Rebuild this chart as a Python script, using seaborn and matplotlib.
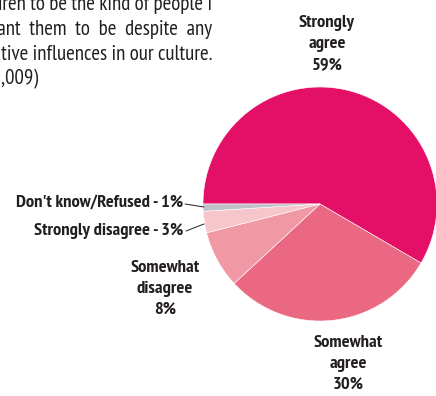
import matplotlib.pyplot as plt
import seaborn as sns

# data
categories = ['Strongly agree', 'Somewhat agree', 'Somewhat disagree',
              'Strongly disagree', "Don't know/Refused"]
shares = [59, 30, 8, 3, 1]
colors = ['#E41068', '#EB6882', '#F098A4', '#F7C6CD', '#BEC1C8']

title_lines = ['children to be the kind of people I',
               'want  them  to  be  despite  any',
               'negative influences in our culture.']
note = '(N=1,009)'

sns.set_theme(style='white')
plt.rcParams['font.family'] = ['PT Sans Narrow', 'Roboto Condensed', 'DejaVu Sans']
ink = '#231F20'

W, H = 436, 396
fig = plt.figure(figsize=(W / 100, H / 100), dpi=100)
ax = fig.add_axes([0, 0, 1, 1])
ax.axis('off')

ax.pie(shares, colors=colors, startangle=180, counterclock=False,
       center=(320, H - 204), radius=117,
       wedgeprops=dict(edgecolor='white', linewidth=0.4))
ax.set_xlim(0, W)
ax.set_ylim(0, H)
ax.set_aspect('equal')

# question text (cut off by the figure edge, as in the source)
for i, line in enumerate(title_lines):
    ax.text(212, H - 10 - 25 * i, line, ha='right', va='baseline',
            fontsize=15, color=ink)
ax.text(38, H - 84, note, ha='right', va='baseline', fontsize=15, color=ink)

# slice labels
fs = 13.3
lab = dict(ha='center', va='center', fontsize=fs, fontweight='bold',
           color=ink, linespacing=1.42)
ax.text(327, H - 44, 'Strongly\nagree\n59%', **lab)
ax.text(348, H - 364, 'Somewhat\nagree\n30%', **lab)
ax.text(165, H - 289, 'Somewhat\ndisagree\n8%', **lab)
ax.text(183, H - 203, "Don't know/Refused - 1%", ha='right', va='center',
        fontsize=fs, fontweight='bold', color=ink)
ax.text(183, H - 231, 'Strongly disagree - 3%', ha='right', va='center',
        fontsize=fs, fontweight='bold', color=ink)
ax.plot([185, 204], [H - 204, H - 207], color=ink, lw=0.7)
ax.plot([186, 204], [H - 231, H - 224], color=ink, lw=0.7)

fig.savefig('out.png', dpi=100)
